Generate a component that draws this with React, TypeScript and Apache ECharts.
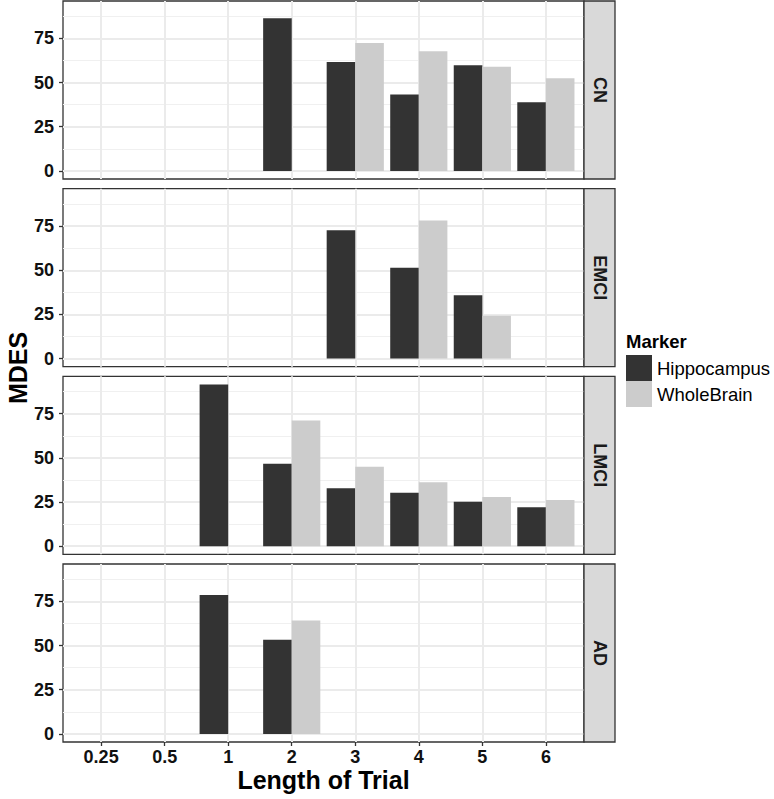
import React, { useEffect, useRef } from 'react';
import * as echarts from 'echarts';

// ---- data ----
const categories = ['0.25', '0.5', '1', '2', '3', '4', '5', '6'];
const panelNames = ['CN', 'EMCI', 'LMCI', 'AD'];
const seriesNames = ['Hippocampus', 'WholeBrain'];

const hippoCN = [null, null, null, 86.4, 61.7, 43.3, 59.8, 38.9];
const wholeCN = [null, null, null, null, 72.4, 67.7, 59.0, 52.5];
const hippoEMCI = [null, null, null, null, 72.6, 51.4, 35.9, null];
const wholeEMCI = [null, null, null, null, null, 78.2, 24.3, null];
const hippoLMCI = [null, null, 91.6, 46.7, 32.8, 30.2, 25.1, 22.1];
const wholeLMCI = [null, null, null, 71.2, 45.0, 36.2, 27.9, 26.2];
const hippoAD = [null, null, 78.6, 53.3, null, null, null, null];
const wholeAD = [null, null, null, 64.2, null, null, null, null];

const yTicks = [0, 25, 50, 75];
const yMinorTicks = [12.5, 37.5, 62.5, 87.5];

const hippoByPanel = [hippoCN, hippoEMCI, hippoLMCI, hippoAD];
const wholeByPanel = [wholeCN, wholeEMCI, wholeLMCI, wholeAD];

const FONT = '"Liberation Sans", Arial, Helvetica, sans-serif';

export default function App() {
  const ref = useRef<HTMLDivElement>(null);

  useEffect(() => {
    document.body.style.margin = '0';
    const chart = echarts.init(ref.current!, null, { renderer: 'svg' });

    const L = 63;
    const W = 521;
    const H = 178;
    const tops = [1, 188.7, 376.3, 564];
    const dataMax = 91.6;
    const yMin = -dataMax * 0.05;
    const yMax = dataMax * 1.05;
    const xMin = -0.6;
    const xMax = categories.length - 1 + 0.6;
    const unitPx = W / (xMax - xMin);
    const dodge = 0.225;
    const barPx = 0.45 * unitPx;
    const catIdx = categories.map((_, i) => i);

    const grids: any[] = [];
    const xAxes: any[] = [];
    const yAxes: any[] = [];
    const series: any[] = [];
    const graphics: any[] = [];

    panelNames.forEach((pn, k) => {
      const isBottom = k === panelNames.length - 1;
      grids.push({
        left: L,
        top: tops[k],
        width: W,
        height: H,
        show: true,
        borderColor: '#333333',
        borderWidth: 1.3,
        backgroundColor: 'transparent',
      });
      xAxes.push({
        type: 'value',
        gridIndex: k,
        min: xMin,
        max: xMax,
        axisLine: { show: false, onZero: false },
        axisTick: {
          show: isBottom,
          customValues: catIdx,
          length: 4,
          lineStyle: { color: '#333333', width: 1.3 },
        },
        axisLabel: {
          show: isBottom,
          customValues: catIdx,
          formatter: (v: number) => categories[Math.round(v)] ?? '',
          margin: 6,
          color: '#111111',
          fontSize: 18,
          fontWeight: 'bold',
          fontFamily: FONT,
        },
        splitLine: { show: true, lineStyle: { color: '#ebebeb', width: 2 } },
        name: isBottom ? 'Length of Trial' : '',
        nameLocation: 'middle',
        nameGap: 25,
        nameTextStyle: {
          color: '#000000',
          fontSize: 25,
          fontWeight: 'bold',
          fontFamily: FONT,
        },
      });
      yAxes.push({
        type: 'value',
        gridIndex: k,
        min: yMin,
        max: yMax,
        axisLine: { show: false, onZero: false },
        axisTick: {
          show: true,
          customValues: yTicks,
          length: 4,
          lineStyle: { color: '#333333', width: 1.3 },
        },
        axisLabel: {
          show: true,
          customValues: yTicks,
          margin: 9,
          color: '#111111',
          fontSize: 18,
          fontWeight: 'bold',
          fontFamily: FONT,
        },
        splitLine: { show: true, lineStyle: { color: '#ebebeb', width: 2 } },
      });
      yAxes.push({
        type: 'value',
        gridIndex: k,
        min: yMin,
        max: yMax,
        position: 'left',
        axisLine: { show: false, onZero: false },
        axisTick: { show: false, customValues: yMinorTicks },
        axisLabel: { show: false, customValues: yMinorTicks },
        splitLine: { show: true, lineStyle: { color: '#f0f0f0', width: 1 } },
      });

      const hp = hippoByPanel[k];
      const wb = wholeByPanel[k];
      series.push({
        type: 'bar',
        name: seriesNames[0],
        xAxisIndex: k,
        yAxisIndex: 2 * k,
        barWidth: barPx,
        barGap: '-100%',
        clip: false,
        itemStyle: { color: '#333333' },
        data: hp
          .map((v, i) => (v == null ? null : [i - dodge, v]))
          .filter((d) => d != null),
      });
      series.push({
        type: 'bar',
        name: seriesNames[1],
        xAxisIndex: k,
        yAxisIndex: 2 * k,
        barWidth: barPx,
        barGap: '-100%',
        clip: false,
        itemStyle: { color: '#cccccc' },
        data: wb
          .map((v, i) => (v == null ? null : [i + dodge, v]))
          .filter((d) => d != null),
      });

      graphics.push({
        type: 'rect',
        shape: { x: L + W, y: tops[k], width: 31, height: H },
        style: { fill: '#d9d9d9', stroke: '#333333', lineWidth: 1.3 },
        z: 10,
      });
      graphics.push({
        type: 'text',
        x: L + W + 15.5,
        y: tops[k] + H / 2,
        rotation: -Math.PI / 2,
        style: {
          text: pn,
          fill: '#1a1a1a',
          font: `bold 18px ${FONT}`,
          align: 'center',
          verticalAlign: 'middle',
        },
        z: 11,
      });
    });

    graphics.push({
      type: 'text',
      x: 18,
      y: 368,
      rotation: Math.PI / 2,
      style: {
        text: 'MDES',
        fill: '#000000',
        font: `bold 25px ${FONT}`,
        align: 'center',
        verticalAlign: 'middle',
      },
    });
    graphics.push({
      type: 'text',
      x: 626,
      y: 341,
      style: {
        text: 'Marker',
        fill: '#000000',
        font: `bold 18.5px ${FONT}`,
        align: 'left',
        verticalAlign: 'middle',
      },
    });

    const option: any = {
      animation: false,
      backgroundColor: '#ffffff',
      grid: grids,
      xAxis: xAxes,
      yAxis: yAxes,
      series,
      legend: {
        orient: 'vertical',
        left: 626,
        top: 355,
        padding: 0,
        itemWidth: 26,
        itemHeight: 26,
        itemGap: 0,
        icon: 'rect',
        data: seriesNames,
        selectedMode: false,
        textStyle: { fontSize: 18.5, fontFamily: FONT, color: '#000000' },
      },
      graphic: graphics,
    };

    chart.setOption(option);
    return () => chart.dispose();
  }, []);

  return <div ref={ref} style={{ width: 774, height: 799 }} />;
}
